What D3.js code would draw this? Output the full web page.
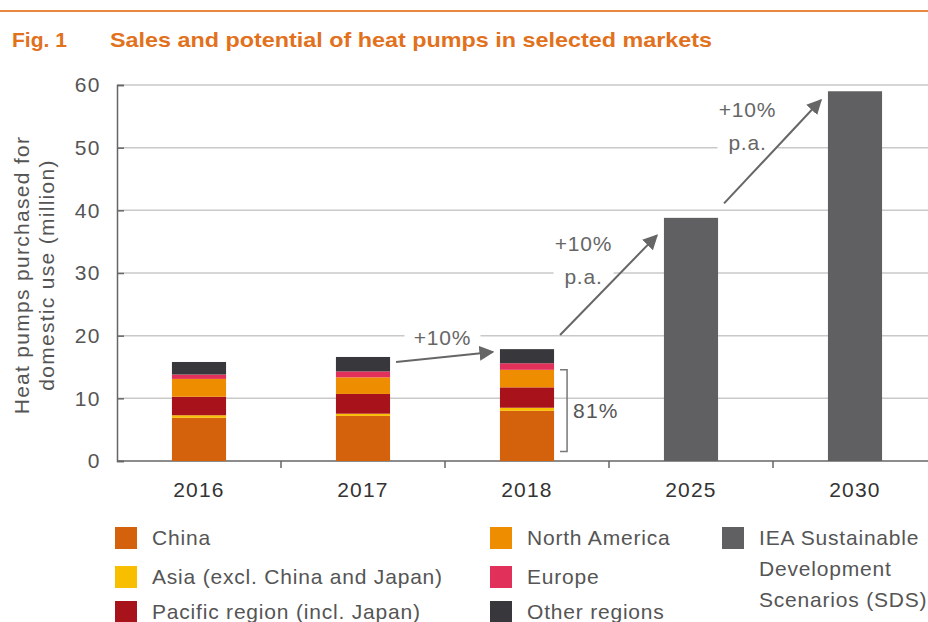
<!DOCTYPE html>
<html>
<head>
<meta charset="utf-8">
<title>Heat pumps</title>
<script src="https://d3js.org/d3.v7.min.js"></script>
<style>
  body { margin: 0; background: #fff; }
  text { font-family: "Liberation Sans", Arial, sans-serif; }
</style>
</head>
<body>
<div id="chart"></div>
<script>
// data
const years = ['2016', '2017', '2018', '2025', '2030'];
const regions = ['China', 'Asia (excl. China and Japan)', 'Pacific region (incl. Japan)',
                 'North America', 'Europe', 'Other regions'];
const china        = [6.9, 7.2, 8.0];
const asia         = [0.4, 0.35, 0.5];
const pacific      = [2.95, 3.15, 3.25];
const northAmerica = [2.85, 2.65, 2.8];
const europe       = [0.7, 0.95, 1.05];
const otherRegions = [2.0, 2.3, 2.25];
const sds          = [null, null, null, 38.8, 59.0];
const sdsLabel     = ['IEA Sustainable', 'Development', 'Scenarios (SDS)'];
const yTicks       = [0, 10, 20, 30, 40, 50, 60];
// growth arrows: start/end year and value
const arrows = [
  {from: '2017', v0: 15.8, to: '2018', v1: 17.4, label: ['+10%']},
  {from: '2018', v0: 20.1, to: '2025', v1: 36.0, label: ['+10%', 'p.a.']},
  {from: '2025', v0: 41.1, to: '2030', v1: 57.6, label: ['+10%', 'p.a.']}
];
const share = {label: '81%', low: 1.5, high: 14.55};

const colors = ['#d4620c', '#f8be00', '#a8121a', '#ee8d00', '#e1305a', '#38383c'];
const sdsColor = '#606062';
const grey = '#666';

const W = 928, H = 622;
const margin = {top: 85, left: 117, bottom: 161};
const step = 164;

const svg = d3.select('#chart').append('svg')
  .attr('width', W).attr('height', H);

// title
svg.append('line')
  .attr('x1', 0).attr('x2', W).attr('y1', 11).attr('y2', 11)
  .attr('stroke', '#e8883f').attr('stroke-width', 2);
svg.append('text')
  .attr('x', 12).attr('y', 47)
  .attr('font-size', 21).attr('font-weight', 'bold').attr('fill', '#e2711d')
  .attr('textLength', 55).attr('lengthAdjust', 'spacingAndGlyphs')
  .text('Fig. 1');
svg.append('text')
  .attr('x', 110).attr('y', 47)
  .attr('font-size', 21).attr('font-weight', 'bold').attr('fill', '#e2711d')
  .attr('textLength', 602).attr('lengthAdjust', 'spacingAndGlyphs')
  .text('Sales and potential of heat pumps in selected markets');

const x = d3.scaleBand()
  .domain(years)
  .range([margin.left, margin.left + step * years.length])
  .paddingInner(0.67).paddingOuter(0.335);

const y = d3.scaleLinear()
  .domain([0, 60])
  .range([H - margin.bottom, margin.top]);

// gridlines
svg.append('g').selectAll('line')
  .data(yTicks.filter(d => d > 0))
  .join('line')
  .attr('x1', margin.left).attr('x2', W)
  .attr('y1', d => y(d)).attr('y2', d => y(d))
  .attr('stroke', '#c9c9c9').attr('stroke-width', 1.5);

// y axis
const yAxis = d3.axisLeft(y).tickValues(yTicks).tickSize(-7).tickPadding(16);
const gy = svg.append('g')
  .attr('transform', `translate(${margin.left},0)`)
  .call(yAxis);
gy.select('.domain').attr('stroke', grey).attr('stroke-width', 1.5);
gy.selectAll('.tick line').attr('stroke', grey).attr('stroke-width', 1.5);
gy.selectAll('.tick text')
  .attr('font-size', 21).attr('fill', '#555').attr('font-family', null)
  .attr('letter-spacing', 1.5);

// y title
const yTitle = svg.append('text')
  .attr('transform', `translate(22, 275) rotate(-90)`)
  .attr('text-anchor', 'middle')
  .attr('font-size', 21).attr('fill', '#555')
  .attr('letter-spacing', 1.3);
yTitle.append('tspan').attr('x', 0).attr('dy', '0.35em').text('Heat pumps purchased for');
yTitle.append('tspan').attr('x', 0).attr('dy', 25).text('domestic use (million)');

// x axis
svg.append('line')
  .attr('x1', margin.left).attr('x2', W)
  .attr('y1', y(0)).attr('y2', y(0))
  .attr('stroke', grey).attr('stroke-width', 1.5);
svg.append('g').selectAll('line')
  .data(years.slice(1))
  .join('line')
  .attr('x1', d => x(d) - x.step() * x.paddingInner() / 2)
  .attr('x2', d => x(d) - x.step() * x.paddingInner() / 2)
  .attr('y1', y(0)).attr('y2', y(0) + 7)
  .attr('stroke', grey).attr('stroke-width', 1.5);
svg.append('g').selectAll('text')
  .data(years)
  .join('text')
  .attr('x', d => x(d) + x.bandwidth() / 2)
  .attr('y', y(0) + 29)
  .attr('dy', '0.35em')
  .attr('text-anchor', 'middle')
  .attr('font-size', 21).attr('fill', '#333').attr('letter-spacing', 1.2)
  .text(d => d);

// stacked bars
const series = [china, asia, pacific, northAmerica, europe, otherRegions];
const table = years.slice(0, 3).map((yr, i) => {
  const row = {year: yr};
  regions.forEach((r, j) => row[r] = series[j][i]);
  return row;
});
const stacked = d3.stack().keys(regions)(table);

svg.append('g').selectAll('g')
  .data(stacked)
  .join('g')
  .attr('fill', (d, i) => colors[i])
  .selectAll('rect')
  .data(d => d)
  .join('rect')
  .attr('x', d => x(d.data.year))
  .attr('width', x.bandwidth())
  .attr('y', d => y(d[1]))
  .attr('height', d => y(d[0]) - y(d[1]));

// SDS bars
svg.append('g').selectAll('rect')
  .data(years.map((yr, i) => ({year: yr, v: sds[i]})).filter(d => d.v != null))
  .join('rect')
  .attr('x', d => x(d.year))
  .attr('width', x.bandwidth())
  .attr('y', d => y(d.v))
  .attr('height', d => y(0) - y(d.v))
  .attr('fill', sdsColor);

// 81% bracket
const bx = x('2018') + x.bandwidth() + 13;
svg.append('path')
  .attr('d', `M${bx - 7},${y(share.high)}H${bx}V${y(share.low)}H${bx - 7}`)
  .attr('fill', 'none').attr('stroke', '#777').attr('stroke-width', 1.5);
svg.append('text')
  .attr('x', bx + 6).attr('y', (y(share.high) + y(share.low)) / 2)
  .attr('dy', '0.35em')
  .attr('font-size', 21).attr('fill', '#555').attr('letter-spacing', 1.2)
  .text(share.label);

// growth arrows
svg.append('defs').append('marker')
  .attr('id', 'head')
  .attr('markerUnits', 'userSpaceOnUse')
  .attr('viewBox', '0 0 10 10')
  .attr('refX', 9).attr('refY', 5)
  .attr('markerWidth', 15).attr('markerHeight', 15)
  .attr('orient', 'auto')
  .append('path')
  .attr('d', 'M0,0L10,5L0,10Z')
  .attr('fill', grey);

arrows.forEach(a => {
  const x0 = x(a.from) + x.bandwidth() + 6;
  const x1 = x(a.to) - 7;
  const y0 = y(a.v0), y1 = y(a.v1);
  const mx = (x0 + x1) / 2, my = (y0 + y1) / 2;
  const twoLine = a.label.length > 1;
  const lx = twoLine ? mx - 25 : mx - 2;
  const ly0 = twoLine ? my - 42 : my - 19;
  const lab = svg.append('g');
  a.label.forEach((t, k) => {
    const ty = ly0 + k * 33;
    lab.append('rect')
      .attr('x', lx - (k ? 30 : 38)).attr('width', k ? 60 : 76)
      .attr('y', ty - 12).attr('height', 24)
      .attr('fill', '#fff');
    lab.append('text')
      .attr('x', lx).attr('y', ty).attr('dy', '0.35em')
      .attr('text-anchor', 'middle')
      .attr('font-size', 21).attr('fill', grey).attr('letter-spacing', 0.8)
      .text(t);
  });
  svg.append('line')
    .attr('x1', x0).attr('y1', y0).attr('x2', x1).attr('y2', y1)
    .attr('stroke', grey).attr('stroke-width', 2)
    .attr('marker-end', 'url(#head)');
});

// legend
const legendItems = regions.map((r, i) => ({label: [r], color: colors[i]}))
  .concat([{label: sdsLabel, color: sdsColor}]);
const colX = [115, 490, 722];
const rowY = [527, 566, 601];
const leg = svg.append('g').selectAll('g')
  .data(legendItems)
  .join('g')
  .attr('transform', (d, i) => `translate(${colX[Math.floor(i / 3)]},${rowY[i % 3]})`);
leg.append('rect')
  .attr('width', 22).attr('height', 22)
  .attr('fill', d => d.color);
leg.append('text')
  .attr('x', 37)
  .attr('font-size', 21).attr('fill', '#555').attr('letter-spacing', 0.8)
  .selectAll('tspan')
  .data(d => d.label)
  .join('tspan')
  .attr('x', 37)
  .attr('y', (d, k) => 11 + k * 31)
  .attr('dy', '0.35em')
  .text(d => d);
</script>
</body>
</html>
